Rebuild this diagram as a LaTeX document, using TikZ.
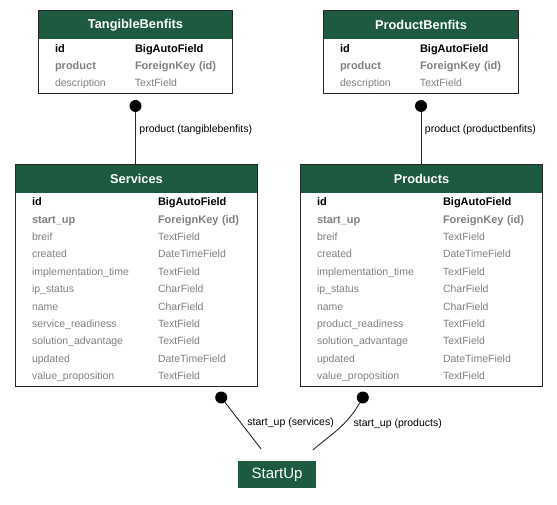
\documentclass[tikz,border=0pt]{standalone}
\usepackage{fontspec}
\setmainfont{Liberation Sans}
\usetikzlibrary{positioning}
\definecolor{tblgreen}{RGB}{30,90,63}
\definecolor{fieldgray}{RGB}{128,128,128}
\newlength{\colw}
\newcommand{\pkrow}[2]{\mbox{\fontsize{11}{17.4}\selectfont\bfseries\makebox[\colw][l]{#1}#2}}
\newcommand{\fkrow}[2]{\mbox{\fontsize{11}{17.4}\selectfont\color{fieldgray}\bfseries\makebox[\colw][l]{#1}#2}}
\newcommand{\txrow}[2]{\mbox{\color{fieldgray}\makebox[\colw][l]{#1}#2}}

\begin{document}
\begin{tikzpicture}[x=1pt,y=1pt,
  thead/.style={fill=tblgreen, text=white, font=\fontsize{12.8}{15}\selectfont\bfseries, minimum height=28.5pt, inner sep=0pt},
  tbody/.style={anchor=north, fill=white, inner xsep=16pt, inner ysep=4.5pt, align=left, font=\fontsize{10.5}{17.4}\selectfont, execute at begin node={\setlength{\colw}{#1}}},
  tborder/.style={draw=black!85, line width=1pt},
  fkdot/.style={circle, fill=black, minimum size=12pt, inner sep=0pt},
  fkline/.style={draw=black!85, line width=0.9pt},
  elabel/.style={font=\fontsize{10.5}{12}\selectfont, inner sep=1pt, anchor=west},
  startbox/.style={fill=tblgreen, text=white, font=\fontsize{15}{18}\selectfont, minimum width=78pt, minimum height=27pt, inner sep=0pt}]
\useasboundingbox (0,0) rectangle (557,504);

\node[thead, minimum width=193pt] (tbhead) at (135.5,479) {TangibleBenfits};
\node[tbody=80pt, text width=161pt, below=0pt of tbhead] (tbbody) {\pkrow{id}{BigAutoField}\\ \fkrow{product}{ForeignKey (id)}\\ \txrow{description}{TextField}};
\draw[tborder] (tbhead.north west) rectangle (tbbody.south east);

\node[thead, minimum width=194pt] (pbhead) at (421,479) {ProductBenfits};
\node[tbody=80pt, text width=162pt, below=0pt of pbhead] (pbbody) {\pkrow{id}{BigAutoField}\\ \fkrow{product}{ForeignKey (id)}\\ \txrow{description}{TextField}};
\draw[tborder] (pbhead.north west) rectangle (pbbody.south east);

\node[thead, minimum width=241pt] (svhead) at (136.5,325.5) {Services};
\node[tbody=126pt, text width=209pt, below=0pt of svhead] (svbody) {\pkrow{id}{BigAutoField}\\ \fkrow{start\_up}{ForeignKey (id)}\\
  \txrow{breif}{TextField}\\ \txrow{created}{DateTimeField}\\ \txrow{implementation\_time}{TextField}\\
  \txrow{ip\_status}{CharField}\\ \txrow{name}{CharField}\\ \txrow{service\_readiness}{TextField}\\
  \txrow{solution\_advantage}{TextField}\\ \txrow{updated}{DateTimeField}\\ \txrow{value\_proposition}{TextField}};
\draw[tborder] (svhead.north west) rectangle (svbody.south east);

\node[thead, minimum width=241pt] (pdhead) at (421.5,325.5) {Products};
\node[tbody=126pt, text width=209pt, below=0pt of pdhead] (pdbody) {\pkrow{id}{BigAutoField}\\ \fkrow{start\_up}{ForeignKey (id)}\\
  \txrow{breif}{TextField}\\ \txrow{created}{DateTimeField}\\ \txrow{implementation\_time}{TextField}\\
  \txrow{ip\_status}{CharField}\\ \txrow{name}{CharField}\\ \txrow{product\_readiness}{TextField}\\
  \txrow{solution\_advantage}{TextField}\\ \txrow{updated}{DateTimeField}\\ \txrow{value\_proposition}{TextField}};
\draw[tborder] (pdhead.north west) rectangle (pdbody.south east);

\node[fkdot, below=6pt of tbbody] (tbdot) {};
\node[fkdot, below=6pt of pbbody] (pbdot) {};
\node[fkdot] (svdot) at ([xshift=-36pt,yshift=-11pt]svbody.south east) {};
\node[fkdot] (pddot) at ([xshift=62pt,yshift=-11pt]pdbody.south west) {};

\node[startbox] (startup) at (277,29.5) {StartUp};
\coordinate (suleft) at ([xshift=-16pt,yshift=12pt]startup.north);
\coordinate (suright) at ([xshift=36pt,yshift=11pt]startup.north);

\draw[fkline] (tbdot) -- (tbdot |- svhead.north) node[elabel, pos=.33, xshift=2.5pt] {product (tangiblebenfits)};
\draw[fkline] (pbdot) -- (pbdot |- pdhead.north) node[elabel, pos=.33, xshift=2.5pt] {product (productbenfits)};
\draw[fkline] (svdot) -- (suleft) node[elabel, pos=.43, xshift=5.5pt] {start\_up (services)};
\draw[fkline] (pddot) to[out=-120,in=40] node[elabel, pos=.38, xshift=8pt] {start\_up (products)} (suright);
\end{tikzpicture}
\end{document}
